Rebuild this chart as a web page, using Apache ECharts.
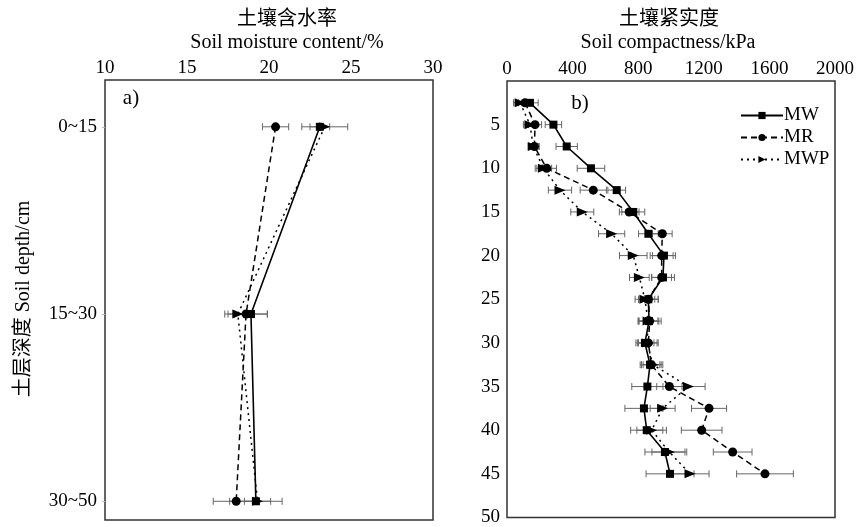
<!DOCTYPE html>
<html><head><meta charset="utf-8">
<script src="https://cdn.jsdelivr.net/npm/echarts@6/dist/echarts.min.js"></script>
<style>html,body{margin:0;padding:0;background:#fff}#c{width:857px;height:527px}</style>
</head><body><div id="c"></div>
<script>
// ---- Panel a) soil moisture content (%) by soil layer ----
const layers = ['0~15', '15~30', '30~50'];
const moistMW = [23.1, 18.9, 19.2];
const moistMWErr = [0.6, 1.0, 1.6];
const moistMR = [20.4, 18.6, 18.0];
const moistMRErr = [0.8, 1.3, 1.4];
const moistMWP = [23.4, 18.1, 19.3];
const moistMWPErr = [1.4, 0.6, 0.8];

// ---- Panel b) soil compactness (kPa) by depth (cm) ----
const depths = [2.5, 5, 7.5, 10, 12.5, 15, 17.5, 20, 22.5, 25, 27.5, 30, 32.5, 35, 37.5, 40, 42.5, 45];
const compMW = [140, 283, 364, 512, 669, 770, 862, 957, 951, 862, 866, 841, 872, 856, 835, 852, 963, 994];
const compMWErr = [50, 50, 65, 84, 54, 70, 60, 70, 70, 60, 60, 55, 60, 95, 116, 98, 122, 146];
const compMR = [110, 171, 167, 242, 526, 745, 947, 943, 943, 862, 870, 862, 880, 990, 1232, 1187, 1376, 1573];
const compMRErr = [40, 40, 30, 60, 80, 60, 60, 70, 60, 60, 70, 60, 60, 77, 107, 124, 118, 173];
const compMWP = [80, 140, 160, 222, 323, 459, 638, 770, 807, 841, 860, 855, 890, 1106, 949, 882, 990, 1116];
const compMWPErr = [40, 40, 30, 50, 71, 70, 80, 84, 60, 60, 60, 60, 60, 102, 76, 90, 106, 116];

const seriesNames = ['MW', 'MR', 'MWP'];

const FONT = '"Liberation Serif", "Noto Sans CJK SC", serif';
const layerIdx = layers.map((_, i) => i);

function errSeries(xi, yi, vals, errs, yvals) {
  return {
    type: 'custom', xAxisIndex: xi, yAxisIndex: yi, silent: true, z: 1,
    data: vals.map((v, i) => [v - errs[i], v + errs[i], yvals[i]]),
    encode: { x: [0, 1], y: 2 },
    renderItem: (params, api) => {
      const y = api.value(2);
      const a = api.coord([api.value(0), y]);
      const b = api.coord([api.value(1), y]);
      const h = 3.5;
      const st = { stroke: '#666', lineWidth: 1 };
      return { type: 'group', children: [
        { type: 'line', shape: { x1: a[0], y1: a[1], x2: b[0], y2: b[1] }, style: st },
        { type: 'line', shape: { x1: a[0], y1: a[1] - h, x2: a[0], y2: a[1] + h }, style: st },
        { type: 'line', shape: { x1: b[0], y1: b[1] - h, x2: b[0], y2: b[1] + h }, style: st }
      ] };
    }
  };
}

const styles = {
  MW: { symbol: 'rect', symbolSize: 8, symbolRotate: 0, line: { type: 'solid', width: 1.6 } },
  MR: { symbol: 'circle', symbolSize: 9, symbolRotate: 0, line: { type: [6, 4], width: 1.5 } },
  MWP: { symbol: 'triangle', symbolSize: [9, 11], symbolRotate: -90, line: { type: [2, 4], width: 1.5 } }
};

function lineSeries(name, xi, yi, vals, yvals) {
  const s = styles[name];
  return {
    type: 'line', name: name, xAxisIndex: xi, yAxisIndex: yi, z: 3,
    data: vals.map((v, i) => [v, yvals[i]]),
    symbol: s.symbol, symbolSize: s.symbolSize, symbolRotate: s.symbolRotate,
    showAllSymbol: true,
    itemStyle: { color: '#000' },
    lineStyle: { color: '#000', width: s.line.width, type: s.line.type },
    animation: false
  };
}

const axisLabelBase = { color: '#000', fontFamily: FONT, fontSize: 19, formatter: v => String(v) };

const option = {
  animation: false,
  backgroundColor: '#fff',
  grid: [
    { left: 105, top: 80, width: 328, height: 440, show: true, borderColor: '#333', borderWidth: 1.5, containLabel: false },
    { left: 507, top: 81, width: 328, height: 440, show: true, borderColor: '#333', borderWidth: 1.5, containLabel: false }
  ],
  xAxis: [
    { gridIndex: 0, type: 'value', position: 'top', min: 10, max: 30, interval: 5,
      axisLine: { show: false }, axisTick: { show: false }, splitLine: { show: false },
      axisLabel: Object.assign({}, axisLabelBase, { margin: 2 }) },
    { gridIndex: 1, type: 'value', position: 'top', min: 0, max: 2000, interval: 400,
      axisLine: { show: false }, axisTick: { show: false }, splitLine: { show: false },
      axisLabel: Object.assign({}, axisLabelBase, { margin: 2 }) }
  ],
  yAxis: [
    { gridIndex: 0, type: 'value', inverse: true, min: -0.25, max: 2.1,
      axisLine: { show: false }, splitLine: { show: false },
      axisTick: { show: true, length: 3, customValues: layerIdx, lineStyle: { color: '#bbb' } },
      axisLabel: Object.assign({}, axisLabelBase, { margin: 8, customValues: layerIdx,
        formatter: v => layers[Math.round(v)] }) },
    { gridIndex: 1, type: 'value', inverse: true, min: 0, max: 50, interval: 5,
      axisLine: { show: false }, splitLine: { show: false }, axisTick: { show: false },
      axisLabel: Object.assign({}, axisLabelBase, { margin: 7, showMinLabel: false }) }
  ],
  legend: {
    data: seriesNames, orient: 'vertical', left: 735, top: 101,
    itemWidth: 42, itemHeight: 9, itemGap: 3,
    textStyle: { color: '#000', fontFamily: FONT, fontSize: 19, padding: [0, 0, 0, -4] }
  },
  series: [
    errSeries(0, 0, moistMW, moistMWErr, layerIdx),
    errSeries(0, 0, moistMR, moistMRErr, layerIdx),
    errSeries(0, 0, moistMWP, moistMWPErr, layerIdx),
    lineSeries('MW', 0, 0, moistMW, layerIdx),
    lineSeries('MR', 0, 0, moistMR, layerIdx),
    lineSeries('MWP', 0, 0, moistMWP, layerIdx),
    errSeries(1, 1, compMW, compMWErr, depths),
    errSeries(1, 1, compMR, compMRErr, depths),
    errSeries(1, 1, compMWP, compMWPErr, depths),
    lineSeries('MW', 1, 1, compMW, depths),
    lineSeries('MR', 1, 1, compMR, depths),
    lineSeries('MWP', 1, 1, compMWP, depths)
  ],
  graphic: [
    { type: 'text', x: 287, y: 20, style: { text: '土壤含水率', fontFamily: FONT, fontSize: 20, fill: '#000', textAlign: 'center', textVerticalAlign: 'middle' } },
    { type: 'text', x: 287, y: 43, style: { text: 'Soil moisture content/%', fontFamily: FONT, fontSize: 20, fill: '#000', textAlign: 'center', textVerticalAlign: 'middle' } },
    { type: 'text', x: 669, y: 20, style: { text: '土壤紧实度', fontFamily: FONT, fontSize: 20, fill: '#000', textAlign: 'center', textVerticalAlign: 'middle' } },
    { type: 'text', x: 668, y: 43, style: { text: 'Soil compactness/kPa', fontFamily: FONT, fontSize: 20, fill: '#000', textAlign: 'center', textVerticalAlign: 'middle' } },
    { type: 'text', x: 24, y: 299, rotation: Math.PI / 2, style: { text: '土层深度 Soil depth/cm', fontFamily: FONT, fontSize: 20, fill: '#000', textAlign: 'center', textVerticalAlign: 'middle' } },
    { type: 'text', x: 131, y: 98, style: { text: 'a)', fontFamily: FONT, fontSize: 21, fill: '#000', textAlign: 'center', textVerticalAlign: 'middle' } },
    { type: 'text', x: 580, y: 103, style: { text: 'b)', fontFamily: FONT, fontSize: 21, fill: '#000', textAlign: 'center', textVerticalAlign: 'middle' } }
  ]
};

const chart = echarts.init(document.getElementById('c'), null, { renderer: 'canvas' });
chart.setOption(option);
</script>
</body></html>
